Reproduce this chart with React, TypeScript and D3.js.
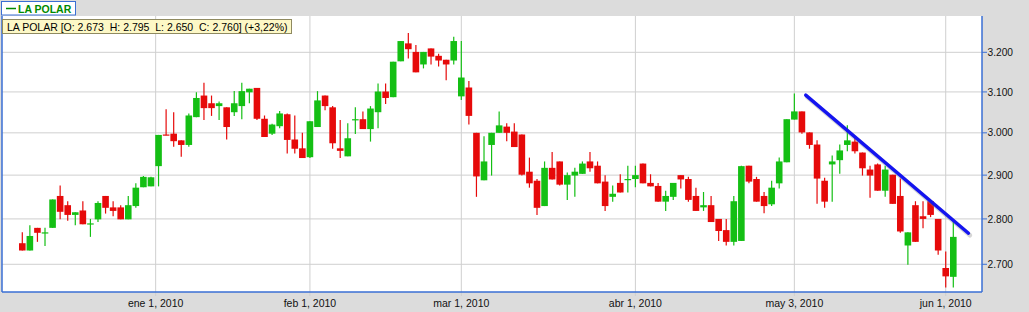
import React from "react";
import * as d3 from "d3";

const seriesName = "LA POLAR";

const open = [
  2.746, 2.730, 2.780, 2.769, 2.780, 2.852, 2.831, 2.809, 2.819, 2.788,
  2.799, 2.852, 2.826, 2.826, 2.799, 2.829, 2.872, 2.874, 2.921, 2.996,
  2.998, 2.982, 2.971, 3.038, 3.091, 3.072, 3.065, 3.062, 3.050, 3.065,
  3.099, 3.110, 3.034, 2.998, 3.016, 3.045, 2.984, 2.963, 2.942, 3.014,
  3.091, 3.062, 2.963, 2.944, 3.031, 3.033, 3.009, 3.050, 3.101, 3.087,
  3.177, 3.223, 3.201, 3.169, 3.210, 3.191, 3.181, 3.179, 3.089, 3.111,
  3.000, 2.888, 2.971, 3.000, 3.015, 3.003, 2.996, 2.908, 2.887, 2.829,
  2.917, 2.932, 2.878, 2.899, 2.903, 2.932, 2.922, 2.885, 2.850, 2.882,
  2.890, 2.891, 2.927, 2.882, 2.875, 2.839, 2.850, 2.900, 2.891, 2.852,
  2.826, 2.831, 2.800, 2.775, 2.749, 2.751, 2.922, 2.891, 2.852, 2.833,
  2.881, 2.930, 3.032, 3.052, 3.001, 2.972, 2.887, 2.925, 2.935, 2.971,
  2.979, 2.953, 2.913, 2.925, 2.864, 2.901, 2.852, 2.741, 2.831, 2.806,
  2.840, 2.800, 2.692, 2.673,
];
const high = [
  2.770, 2.786, 2.780, 2.780, 2.844, 2.876, 2.840, 2.815, 2.840, 2.800,
  2.840, 2.852, 2.840, 2.831, 2.852, 2.881, 2.898, 2.896, 2.995, 3.057,
  3.050, 2.982, 3.047, 3.099, 3.123, 3.091, 3.076, 3.062, 3.102, 3.123,
  3.108, 3.110, 3.042, 3.022, 3.053, 3.047, 3.042, 3.000, 3.028, 3.102,
  3.091, 3.065, 3.031, 3.023, 3.062, 3.052, 3.065, 3.121, 3.121, 3.176,
  3.229, 3.250, 3.219, 3.201, 3.210, 3.196, 3.181, 3.240, 3.229, 3.127,
  3.000, 2.992, 3.000, 3.052, 3.023, 3.023, 2.996, 2.941, 2.891, 2.932,
  2.954, 2.932, 2.906, 2.917, 2.932, 2.954, 2.932, 2.900, 2.876, 2.902,
  2.922, 2.922, 2.927, 2.902, 2.882, 2.864, 2.882, 2.900, 2.896, 2.871,
  2.861, 2.852, 2.800, 2.800, 2.852, 2.922, 2.922, 2.896, 2.861, 2.887,
  2.941, 3.033, 3.096, 3.052, 3.001, 2.982, 2.894, 2.946, 2.972, 3.018,
  2.990, 2.953, 2.922, 2.927, 2.922, 2.901, 2.892, 2.770, 2.840, 2.840,
  2.842, 2.800, 2.728, 2.795,
];
const low = [
  2.730, 2.730, 2.749, 2.740, 2.780, 2.799, 2.796, 2.786, 2.788, 2.760,
  2.793, 2.812, 2.806, 2.799, 2.799, 2.825, 2.872, 2.874, 2.874, 2.994,
  2.967, 2.943, 2.967, 3.038, 3.031, 3.041, 3.031, 2.984, 3.041, 3.033,
  3.072, 3.031, 2.990, 2.995, 3.011, 2.951, 2.951, 2.940, 2.940, 3.014,
  3.055, 2.962, 2.940, 2.944, 2.997, 3.009, 2.979, 3.011, 3.070, 3.087,
  3.177, 3.184, 3.149, 3.159, 3.169, 3.164, 3.129, 3.169, 3.080, 3.020,
  2.850, 2.888, 2.899, 3.000, 2.980, 2.966, 2.899, 2.871, 2.809, 2.829,
  2.890, 2.876, 2.843, 2.850, 2.903, 2.908, 2.881, 2.818, 2.839, 2.860,
  2.860, 2.872, 2.881, 2.874, 2.839, 2.818, 2.843, 2.869, 2.839, 2.818,
  2.818, 2.793, 2.751, 2.741, 2.741, 2.751, 2.881, 2.839, 2.813, 2.829,
  2.869, 2.930, 3.032, 2.998, 2.962, 2.834, 2.825, 2.839, 2.903, 2.956,
  2.951, 2.899, 2.848, 2.864, 2.850, 2.834, 2.769, 2.699, 2.749, 2.779,
  2.804, 2.721, 2.650, 2.650,
];
const close = [
  2.730, 2.762, 2.769, 2.770, 2.844, 2.816, 2.809, 2.815, 2.788, 2.790,
  2.836, 2.825, 2.818, 2.799, 2.831, 2.871, 2.896, 2.895, 2.995, 2.994,
  2.980, 2.971, 3.042, 3.085, 3.060, 3.060, 3.072, 3.014, 3.072, 3.102,
  3.108, 3.034, 2.990, 3.020, 3.047, 2.983, 2.962, 2.940, 3.028, 3.079,
  3.065, 2.975, 2.957, 2.987, 3.033, 3.009, 3.059, 3.101, 3.085, 3.176,
  3.229, 3.208, 3.149, 3.201, 3.189, 3.179, 3.169, 3.229, 3.136, 3.041,
  2.897, 2.932, 3.000, 3.018, 3.000, 2.966, 2.901, 2.881, 2.825, 2.917,
  2.890, 2.878, 2.900, 2.908, 2.927, 2.916, 2.881, 2.829, 2.857, 2.860,
  2.891, 2.900, 2.881, 2.874, 2.839, 2.852, 2.882, 2.890, 2.843, 2.818,
  2.831, 2.793, 2.773, 2.749, 2.840, 2.921, 2.885, 2.839, 2.829, 2.871,
  2.932, 3.033, 3.052, 3.001, 2.971, 2.892, 2.839, 2.932, 2.958, 2.982,
  2.956, 2.916, 2.899, 2.864, 2.913, 2.834, 2.772, 2.770, 2.749, 2.800,
  2.809, 2.730, 2.674, 2.760,
];

const yTicks = [2.7, 2.8, 2.9, 3.0, 3.1, 3.2];
const xTickLabels = ["ene 1, 2010", "feb 1, 2010", "mar 1, 2010", "abr 1, 2010", "may 3, 2010", "jun 1, 2010"];
const xTickIndex = [17.62, 38, 58, 81, 102, 122];
const trendIndex = [103.5, 125];
const trendValue = [3.092, 2.768];

const FONT = "'Liberation Sans', Arial, sans-serif";
const RED = "#e60a0a";
const GREEN = "#14bf14";
const BLUE = "#3a6fd4";
const GRID = "#cfcfcf";

export default function App() {
  const W = 1029, H = 312;
  const L = 2, R = 982, T = 16, B = 292;
  const n = open.length;
  const x = d3.scaleLinear().domain([0, n - 1]).range([22.3, 953.3]);
  const y = d3.scaleLog().domain([2.6407, 3.2945]).range([B, T]);
  const bodyW = 6.6;

  const last = n - 1;
  const pct = (close[last] / close[last - 1] - 1) * 100;
  const f3 = d3.format(".3f");
  const pctStr = (pct >= 0 ? "+" : "") + pct.toFixed(2).replace(".", ",") + "%";
  const info = `${seriesName} [O: ${f3(open[last])}  H: ${f3(high[last])}  L: ${f3(low[last])}  C: ${f3(close[last])}] (${pctStr})`;

  const line = d3.line<number>().x((d, i) => x(trendIndex[i])).y((d) => y(d));

  return (
    <svg width={W} height={H} style={{ position: "absolute", left: 0, top: 0, display: "block" }} fontFamily={FONT}>
      <rect x={0} y={0} width={W} height={H} fill="#dcdcdc" />
      <rect x={L} y={T} width={R - L} height={B - T} fill="#ffffff" />
      {yTicks.map((t) => (
        <g key={"y" + t}>
          <line x1={L} x2={R} y1={y(t)} y2={y(t)} stroke={GRID} strokeWidth={1} />
          <line x1={R} x2={R + 5} y1={y(t)} y2={y(t)} stroke={BLUE} strokeWidth={1} />
          <text x={R + 5.5} y={y(t) + 3.6} fontSize={10.2} fill="#111">{d3.format(".3f")(t)}</text>
        </g>
      ))}
      {xTickIndex.map((t, i) => (
        <g key={"x" + i}>
          <line x1={x(t)} x2={x(t)} y1={T} y2={B + 4} stroke={GRID} strokeWidth={1} />
          <text x={x(t)} y={307} fontSize={10.5} textAnchor="middle" fill="#111">{xTickLabels[i]}</text>
        </g>
      ))}
      {open.map((o, i) => {
        const c = close[i];
        const up = c >= o;
        const col = up ? GREEN : RED;
        const cx = x(i);
        const top = y(Math.max(o, c));
        const bot = y(Math.min(o, c));
        return (
          <g key={"c" + i}>
            <line x1={cx} x2={cx} y1={y(high[i])} y2={y(low[i])} stroke={col} strokeWidth={1.2} />
            <rect x={cx - bodyW / 2} y={top} width={bodyW} height={Math.max(1.2, bot - top)} fill={col} />
          </g>
        );
      })}
      <path d={line(trendValue) || ""} transform="translate(1.5,2)" stroke="#888" strokeOpacity={0.35} strokeWidth={4.5} fill="none" strokeLinecap="round" />
      <path d={line(trendValue) || ""} stroke="#1414f0" strokeWidth={3.4} fill="none" strokeLinecap="round" />
      <line x1={L} x2={L} y1={T} y2={B} stroke={BLUE} strokeWidth={1.5} />
      <line x1={L} x2={R} y1={B} y2={B} stroke={BLUE} strokeWidth={1.5} />
      <line x1={R} x2={R} y1={T} y2={B} stroke={BLUE} strokeWidth={1.5} />
      <rect x={1.5} y={1.5} width={74} height={13.5} fill="#ffffff" stroke={BLUE} strokeWidth={1} />
      <line x1={6} x2={16} y1={8.5} y2={8.5} stroke="#008a00" strokeWidth={1.5} />
      <text x={18} y={12.5} fontSize={10.5} fontWeight="bold" fill="#008a00">{seriesName}</text>
      <rect x={2.5} y={19.5} width={289} height={14} fill="#fdf8c6" stroke="#8f8a60" strokeWidth={1} />
      <text x={7} y={30.5} fontSize={10.5} fill="#000" style={{ whiteSpace: "pre" }}>{info}</text>
    </svg>
  );
}
